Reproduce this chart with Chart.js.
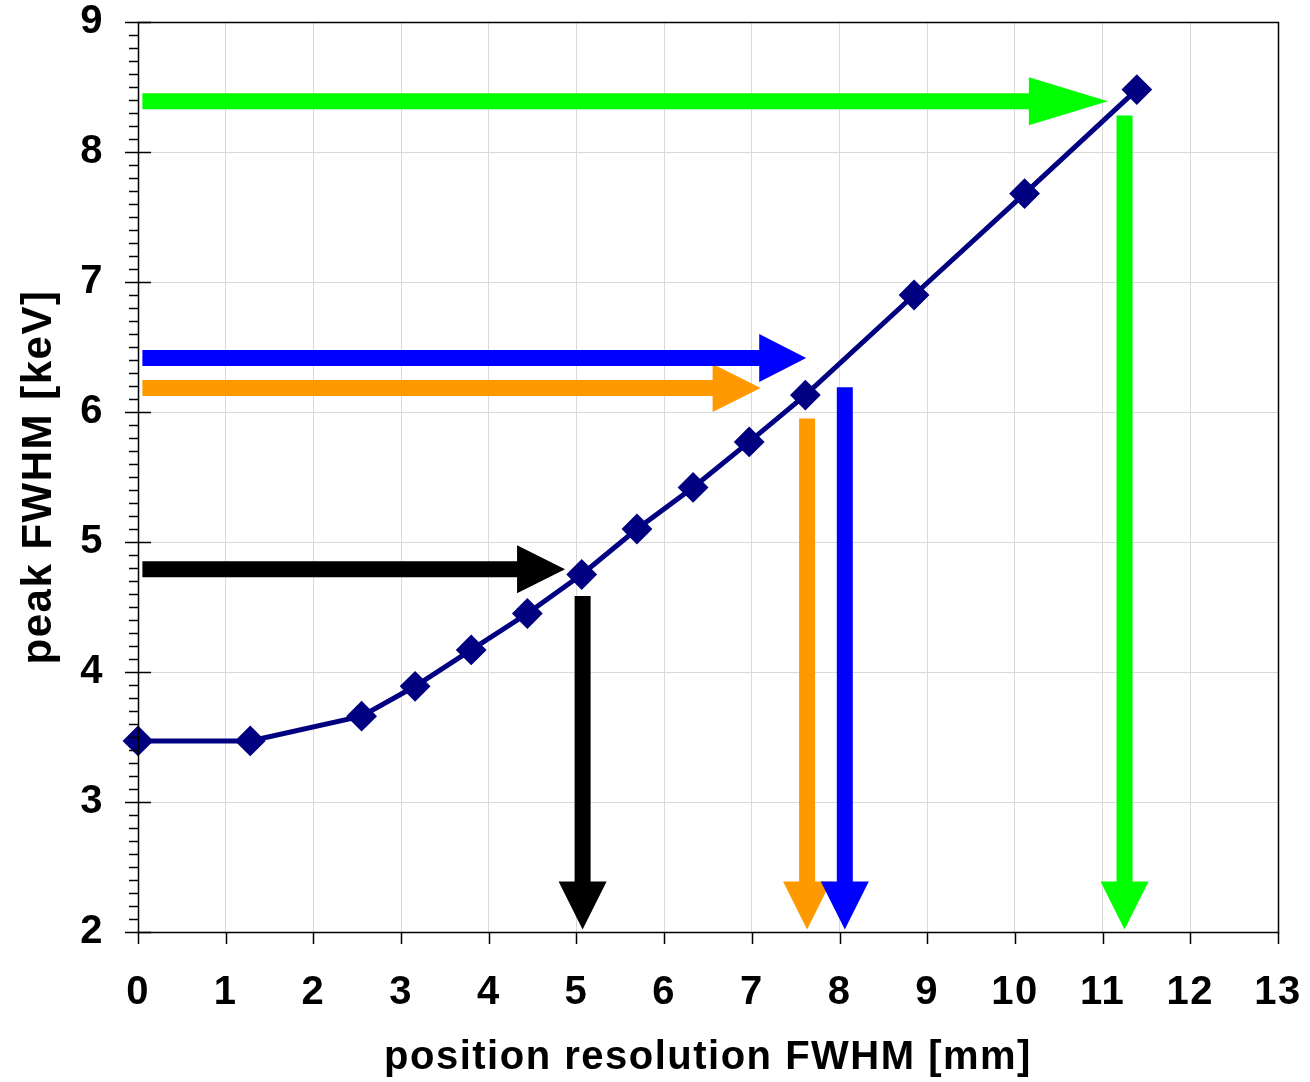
<!DOCTYPE html>
<html>
<head>
<meta charset="utf-8">
<script src="https://cdn.jsdelivr.net/npm/chart.js@4/dist/chart.umd.min.js"></script>
<style>
  html, body { margin: 0; padding: 0; background: #ffffff; }
  #wrap { width: 1310px; height: 1082px; }
</style>
</head>
<body>
<div id="wrap"><canvas id="c" width="1310" height="1082"></canvas></div>
<script>
// ---- data ----
const xValues = [0, 1.28, 2.55, 3.16, 3.80, 4.44, 5.06, 5.69, 6.33, 6.97, 7.61, 8.85, 10.11, 11.39];
const yValues = [3.47, 3.47, 3.66, 3.89, 4.17, 4.45, 4.75, 5.10, 5.42, 5.77, 6.13, 6.90, 7.68, 8.48];

// horizontal arrows: level (keV), start and tip (mm)
const hArrowY     = [4.79, 6.185, 6.415, 8.39];
const hArrowStart = [0.05, 0.05, 0.05, 0.05];
const hArrowTip   = [4.87, 7.10, 7.62, 11.06];
// vertical arrows: position (mm), top and tip (keV)
const vArrowX     = [5.07, 7.63, 8.06, 11.25];
const vArrowTop   = [4.585, 5.95, 6.19, 8.28];
const vArrowTip   = [2.02, 2.02, 2.02, 2.02];

const xTickLabels = ['0','1','2','3','4','5','6','7','8','9','10','11','12','13'];
const yTickLabels = ['2','3','4','5','6','7','8','9'];

// ---- styles ----
const arrowColors = ['#000000', '#ff9900', '#0000ff', '#00ff00'];
const hHeadLen = [48, 48, 47, 79];
const SHAFT = 16, HEAD_W = 48, V_HEAD_LEN = 48;
const FONT = '"Liberation Sans", Arial, Helvetica, sans-serif';

const points = xValues.map((x, i) => ({ x: x, y: yValues[i] }));

const spacingPlugin = {
  id: 'spacing',
  beforeDraw(chart) { chart.ctx.letterSpacing = '1.5px'; }
};

const arrowPlugin = {
  id: 'arrows',
  beforeDatasetsDraw(chart) {
    const ctx = chart.ctx, xs = chart.scales.x, ys = chart.scales.y;
    ctx.save();
    for (let i = 0; i < hArrowY.length; i++) {
      const y = ys.getPixelForValue(hArrowY[i]);
      const x0 = xs.getPixelForValue(hArrowStart[i]);
      const xt = xs.getPixelForValue(hArrowTip[i]);
      const xb = xt - hHeadLen[i];
      ctx.fillStyle = arrowColors[i];
      ctx.beginPath();
      ctx.moveTo(x0, y - SHAFT / 2);
      ctx.lineTo(xb, y - SHAFT / 2);
      ctx.lineTo(xb, y - HEAD_W / 2);
      ctx.lineTo(xt, y);
      ctx.lineTo(xb, y + HEAD_W / 2);
      ctx.lineTo(xb, y + SHAFT / 2);
      ctx.lineTo(x0, y + SHAFT / 2);
      ctx.closePath();
      ctx.fill();
    }
    for (let i = 0; i < vArrowX.length; i++) {
      const x = xs.getPixelForValue(vArrowX[i]);
      const y0 = ys.getPixelForValue(vArrowTop[i]);
      const yt = ys.getPixelForValue(vArrowTip[i]);
      const yb = yt - V_HEAD_LEN;
      ctx.fillStyle = arrowColors[i];
      ctx.beginPath();
      ctx.moveTo(x - SHAFT / 2, y0);
      ctx.lineTo(x - SHAFT / 2, yb);
      ctx.lineTo(x - HEAD_W / 2, yb);
      ctx.lineTo(x, yt);
      ctx.lineTo(x + HEAD_W / 2, yb);
      ctx.lineTo(x + SHAFT / 2, yb);
      ctx.lineTo(x + SHAFT / 2, y0);
      ctx.closePath();
      ctx.fill();
    }
    ctx.restore();
  }
};

const framePlugin = {
  id: 'frame',
  afterDraw(chart) {
    const ctx = chart.ctx, a = chart.chartArea, xs = chart.scales.x, ys = chart.scales.y;
    ctx.save();
    ctx.strokeStyle = '#000000';
    ctx.lineWidth = 1.5;
    ctx.strokeRect(Math.round(a.left) + 0.5, Math.round(a.top) + 0.5,
                   Math.round(a.right - a.left), Math.round(a.bottom - a.top));
    // y axis ticks: majors cross the axis, minors every 0.1 outside
    for (let k = 20; k <= 90; k++) {
      const y = Math.round(ys.getPixelForValue(k / 10)) + 0.5;
      ctx.beginPath();
      if (k % 10 === 0) {
        ctx.moveTo(a.left - 13, y); ctx.lineTo(a.left + 13, y);
      } else {
        ctx.moveTo(a.left - 9, y); ctx.lineTo(a.left, y);
      }
      ctx.stroke();
    }
    // x axis ticks
    for (let k = 0; k <= 13; k++) {
      const x = Math.round(xs.getPixelForValue(k)) + 0.5;
      ctx.beginPath();
      ctx.moveTo(x, a.bottom); ctx.lineTo(x, a.bottom + 12);
      ctx.stroke();
    }
    ctx.restore();
  }
};

function noPad(s) { s.paddingTop = 0; s.paddingBottom = 0; s.paddingLeft = 0; s.paddingRight = 0; }

new Chart(document.getElementById('c'), {
  type: 'scatter',
  data: {
    datasets: [{
      data: points,
      showLine: true,
      borderColor: '#000080',
      borderWidth: 5,
      backgroundColor: '#000080',
      pointStyle: 'rectRot',
      pointRadius: 14,
      pointHoverRadius: 14,
      pointBackgroundColor: '#000080',
      pointBorderColor: '#000080',
      pointBorderWidth: 2,
      clip: false
    }]
  },
  options: {
    responsive: false,
    devicePixelRatio: 1,
    animation: false,
    layout: { padding: { top: 22, right: 32, left: 0, bottom: 0 } },
    plugins: { legend: { display: false }, tooltip: { enabled: false } },
    scales: {
      x: {
        type: 'linear', min: 0, max: 13,
        afterFit(s) { s.height = 150; noPad(s); },
        afterBuildTicks(s) { s.ticks = xTickLabels.map(t => ({ value: Number(t) })); },
        grid: { color: '#d9d9d9', lineWidth: 1, drawTicks: false },
        border: { display: false },
        ticks: {
          padding: 37, maxRotation: 0, autoSkip: false, color: '#000000',
          font: { family: FONT, size: 40, weight: 'bold' },
          callback: (v, i) => xTickLabels[i]
        },
        title: {
          display: true, text: 'position resolution FWHM [mm]', color: '#000000',
          padding: 0, font: { family: FONT, size: 40, weight: 'bold' }
        }
      },
      y: {
        type: 'linear', min: 2, max: 9,
        afterFit(s) { s.width = 138; noPad(s); },
        afterBuildTicks(s) { s.ticks = yTickLabels.map(t => ({ value: Number(t) })); },
        grid: { color: '#d9d9d9', lineWidth: 1, drawTicks: false },
        border: { display: false },
        ticks: {
          padding: 34, autoSkip: false, color: '#000000',
          font: { family: FONT, size: 40, weight: 'bold' },
          callback: (v, i) => yTickLabels[i]
        },
        title: {
          display: true, text: 'peak FWHM [keV]', color: '#000000',
          padding: { top: 14, bottom: 0 }, font: { family: FONT, size: 42, weight: 'bold' }
        }
      }
    }
  },
  plugins: [spacingPlugin, arrowPlugin, framePlugin]
});
</script>
</body>
</html>
